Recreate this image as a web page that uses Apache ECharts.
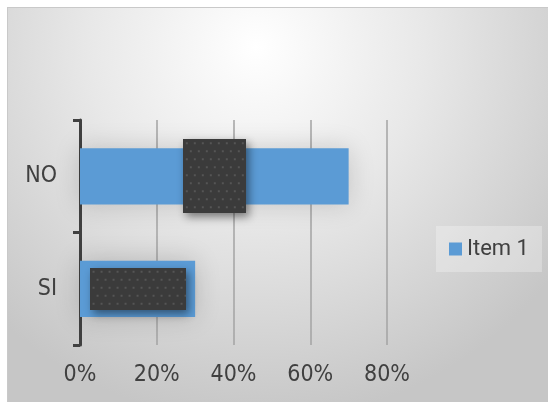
<!DOCTYPE html>
<html>
<head>
<meta charset="utf-8">
<script src="https://cdn.jsdelivr.net/npm/echarts@6/dist/echarts.min.js"></script>
<style>
  html, body { margin: 0; padding: 0; background: #ffffff; }
  #chart { position: absolute; left: 8px; top: 8px; width: 540px; height: 394px;
           box-shadow: 0 0 0 1px #c9c9c9; }
</style>
</head>
<body>
<div id="chart"></div>
<script>
// Answers to a yes/no question, share of responses
const categories = ['SI', 'NO'];
const seriesName = 'Item 1';
const values = [0.30, 0.70];
const tickValues = [0, 0.2, 0.4, 0.6, 0.8];

const labelFont = "'Liberation Sans Narrow', 'DejaVu Sans Condensed', 'Arial Narrow', sans-serif";

// Dark dotted texture for the callout boxes
function dottedTile(w, h) {
  const c = document.createElement('canvas');
  c.width = w; c.height = h;
  const g = c.getContext('2d');
  g.fillStyle = '#3b3b3b';
  g.fillRect(0, 0, w, h);
  g.fillStyle = '#555555';
  for (let y = 3, row = 0; y < h; y += 8, row++) {
    for (let x = (row % 2 ? 7 : 3); x < w; x += 8) {
      g.fillRect(x, y, 2, 2);
    }
  }
  return c;
}

const boxSizes = [[96, 42], [63, 74]];

const chart = echarts.init(document.getElementById('chart'), null, { renderer: 'canvas' });

chart.setOption({
  backgroundColor: {
    type: 'radial', x: 0.46, y: 0.1, r: 0.95,
    colorStops: [
      { offset: 0, color: '#ffffff' },
      { offset: 0.45, color: '#e8e8e8' },
      { offset: 1, color: '#c6c6c6' }
    ]
  },
  animation: false,
  grid: { left: 72, right: 161, top: 112, bottom: 57, containLabel: false },
  legend: {
    data: [seriesName],
    left: 428, top: 218,
    orient: 'vertical',
    padding: [10, 13, 10, 13],
    backgroundColor: 'rgba(255,255,255,0.28)',
    itemWidth: 13, itemHeight: 13,
    icon: 'rect',
    textStyle: { fontFamily: 'Roboto, sans-serif', fontSize: 22, color: '#404040', lineHeight: 26 }
  },
  xAxis: {
    type: 'value',
    min: tickValues[0], max: tickValues[tickValues.length - 1], interval: tickValues[1] - tickValues[0],
    axisLine: { show: false },
    axisTick: { show: false },
    splitLine: { show: true, lineStyle: { color: '#a3a3a3', width: 1.5 } },
    axisLabel: {
      margin: 19,
      fontFamily: labelFont, fontSize: 23, color: '#404040',
      formatter: v => Math.round(v * 100) + '%'
    }
  },
  yAxis: {
    type: 'category',
    data: categories,
    axisLine: { show: true, lineStyle: { color: '#404040', width: 3 } },
    axisTick: { show: true, length: 7, lineStyle: { color: '#404040', width: 3 } },
    axisLabel: { margin: 23, fontFamily: labelFont, fontSize: 23, color: '#404040' }
  },
  series: [{
    name: seriesName,
    type: 'bar',
    barCategoryGap: '50%',
    itemStyle: {
      color: '#5b9bd5',
      shadowBlur: 26, shadowColor: 'rgba(0,0,0,0.17)'
    },
    data: values.map((v, i) => ({
      value: v,
      label: {
        show: true,
        position: 'inside',
        formatter: ' ',
        width: boxSizes[i][0],
        height: boxSizes[i][1],
        backgroundColor: { image: dottedTile(boxSizes[i][0], boxSizes[i][1]) },
        shadowBlur: 8, shadowOffsetX: 3, shadowOffsetY: 4,
        shadowColor: 'rgba(0,0,0,0.45)'
      }
    }))
  }]
});
</script>
</body>
</html>
